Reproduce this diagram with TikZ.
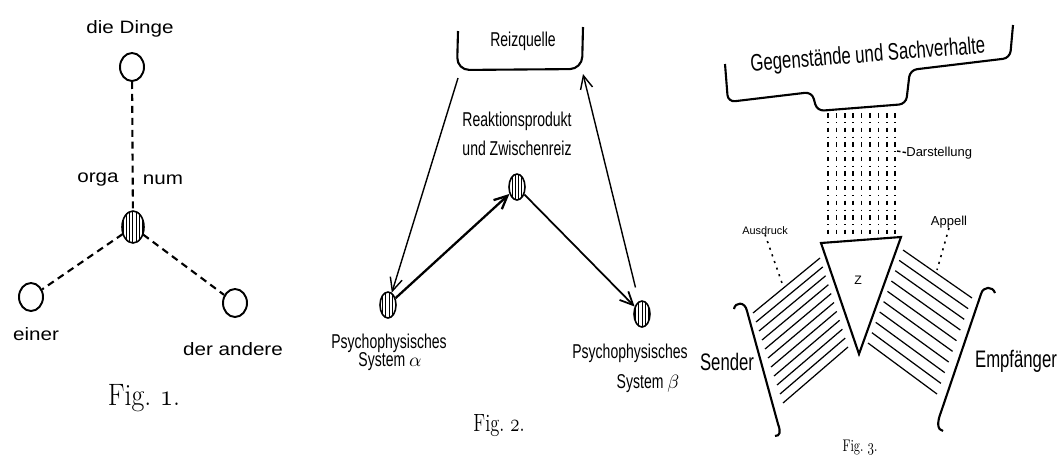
\documentclass[tikz,border=0pt]{standalone}
\usepackage{fontspec}
\usepackage{graphicx}
\usetikzlibrary{shapes.geometric, arrows.meta, patterns.meta, calc}

\newfontfamily\wideSans[FakeStretch=1.15]{Liberation Sans}
\newfontfamily\narrowSans[FakeStretch=0.7]{Liberation Sans}
\newfontfamily\plainSans{Liberation Sans}
\newcommand\osnum[1]{{\usefont{OML}{cmm}{m}{it}#1}}
\newcommand\figcap[3]{{\fontsize{#1}{#1}\selectfont\scalebox{#2}[1]{Fig.\ \osnum{#3}.}}}

\tikzset{
  ding/.style={ellipse, draw, line width=1.1pt, minimum width=0.48cm, minimum height=0.56cm, inner sep=0},
  hatched/.style={ellipse, draw, line width=0.9pt, inner sep=0,
    pattern={Lines[angle=90, distance=1.8pt, line width=0.5pt]}},
  link/.style={line width=1.2pt, dash pattern=on 4pt off 2.8pt},
  onelabel/.style={inner sep=0, anchor=base, font=\wideSans\fontsize{10.2pt}{12pt}\selectfont},
  twolabel/.style={inner sep=0, anchor=base, font=\narrowSans\fontsize{11.4pt}{13pt}\selectfont},
  threelabel/.style={inner sep=0, anchor=base, font=\narrowSans\fontsize{13.6pt}{16pt}\selectfont},
  smalllabel/.style={inner sep=0, anchor=base, font=\plainSans\fontsize{7.4pt}{9pt}\selectfont},
  arr/.style={-{Straight Barb[length=7.5pt, width=7pt]}, line width=0.8pt},
  bracket/.style={line width=1.2pt, rounded corners=7pt},
  leader/.style={line width=0.9pt, dash pattern=on 1.2pt off 2.8pt},
  darst/.style={line width=1pt, dash pattern=on 2.6pt off 2.6pt on 0.5pt off 2.6pt},
  hatch/.style={line width=0.7pt},
  brace/.style={line width=1.2pt}
}

\begin{document}
\begin{tikzpicture}[x=0.02cm, y=-0.02cm]
    \useasboundingbox (0,0) rectangle (1064,461);

    \node[ding] (dinge) at (132,67) {};
    \node[hatched, minimum width=0.44cm, minimum height=0.64cm] (organum) at (133,227) {};
    \node[ding] (einer) at (31,297) {};
    \node[ding] (andere) at (235,303) {};
    \draw[link] (dinge) -- (organum);
    \draw[link] (organum) -- (einer);
    \draw[link] (organum) -- (andere);
    \node[onelabel] (dingeText) at (130,33) {die Dinge};
    \node[onelabel] (orgaText) at (98,182) {orga};
    \node[onelabel] (numText) at (163,184) {num};
    \node[onelabel] (einerText) at (36,340) {einer};
    \node[onelabel] (andereText) at (233,355) {der andere};
    \node[inner sep=0, anchor=base] (figOne) at (144,405) {\figcap{17.6pt}{0.9}{1}};

    \draw[bracket] (458,31) -- (457,70) -- (582,69) -- (583,27);
    \node[twolabel] (reizText) at (523,46) {Reizquelle};
    \coordinate (reizL) at (458,78);
    \coordinate (reizR) at (583,74);
    \node[hatched, minimum width=0.32cm, minimum height=0.52cm] (alpha) at (388,305) {};
    \node[hatched, minimum width=0.32cm, minimum height=0.52cm] (zwischen) at (517,187) {};
    \node[hatched, minimum width=0.32cm, minimum height=0.52cm] (beta) at (642,314) {};
    \draw[arr] (reizL) -- (alpha);
    \draw[arr, line width=1.3pt] (alpha) -- (zwischen);
    \draw[arr, line width=1pt] (zwischen) -- (beta);
    \draw[arr, shorten <=8pt] (beta) -- (reizR);
    \node[twolabel] (zwischenTextA) at (517,126) {Reaktionsprodukt};
    \node[twolabel] (zwischenTextB) at (517,155) {und Zwischenreiz};
    \node[twolabel] (alphaTextA) at (389,348) {Psychophysisches};
    \node[twolabel] (alphaTextB) at (390,366) {System $\alpha$};
    \node[twolabel] (betaTextA) at (630,358) {Psychophysisches};
    \node[twolabel] (betaTextB) at (648,388) {System $\beta$};
    \node[inner sep=0, anchor=base] (figTwo) at (499,431) {\figcap{14.2pt}{0.74}{2}};

    \draw[bracket, rounded corners=4pt] (725,64) -- (728,102) -- (812,92) -- (817,111)
        -- (906,104) -- (910,70) -- (1010,58) -- (1013,25);
    \node[threelabel, anchor=center, rotate=4.5] (sachText) at (868,56) {Gegenstände und Sachverhalte};
    \foreach \i in {0,...,8}
        \draw[darst] ({828+8.4*\i},113) -- ({828+8.4*\i},236);
    \coordinate (tl) at (821,243);
    \coordinate (tr) at (901,237);
    \coordinate (tb) at (859,354);
    \draw[line width=1.2pt] (tl) -- (tr) -- (tb) -- cycle;
    \node[inner sep=0, font=\plainSans\fontsize{7pt}{8pt}\selectfont] (zText) at (858,280) {Z};
    \foreach \k in {0,...,10}
        \draw[hatch] ($(753,313)!\k/10!(783,403)$) -- ($(820,258)!\k/10!(848,347)$);
    \foreach \k in {0,...,9}
        \draw[hatch] ($(903,250)!\k/9!(868,343)$) -- ($(972,298)!\k/9!(937,394)$);
    \draw[brace] (734,309) .. controls (735,302) and (745,301) .. (747,311) -- (778,424)
        .. controls (781,432) and (780,436) .. (775,436);
    \draw[brace] (995,293) .. controls (993,286) and (983,286) .. (981,294) -- (941,412)
        .. controls (937,422) and (937,430) .. (943,431);
    \node[threelabel] (senderText) at (727,370) {Sender};
    \node[threelabel] (empfText) at (1016,367) {Empfänger};
    \node[smalllabel, anchor=base west] (darstText) at (906,156) {Darstellung};
    \coordinate (darstEnd) at (897,151);
    \draw[line width=0.8pt, dash pattern=on 2pt off 1.2pt] (darstEnd) -- (darstText.west);
    \node[smalllabel] (appellText) at (949,225) {Appell};
    \coordinate (appellEnd) at (937,270);
    \draw[leader] (appellText.south) -- (appellEnd);
    \node[smalllabel, font=\plainSans\fontsize{6.2pt}{8pt}\selectfont] (ausdruckText) at (765,234) {Ausdruck};
    \coordinate (ausdruckEnd) at (782,283);
    \draw[leader] (ausdruckText.south) -- (ausdruckEnd);
    \node[inner sep=0, anchor=base] (figThree) at (860,451) {\figcap{9.6pt}{0.73}{3}};
\end{tikzpicture}
\end{document}
